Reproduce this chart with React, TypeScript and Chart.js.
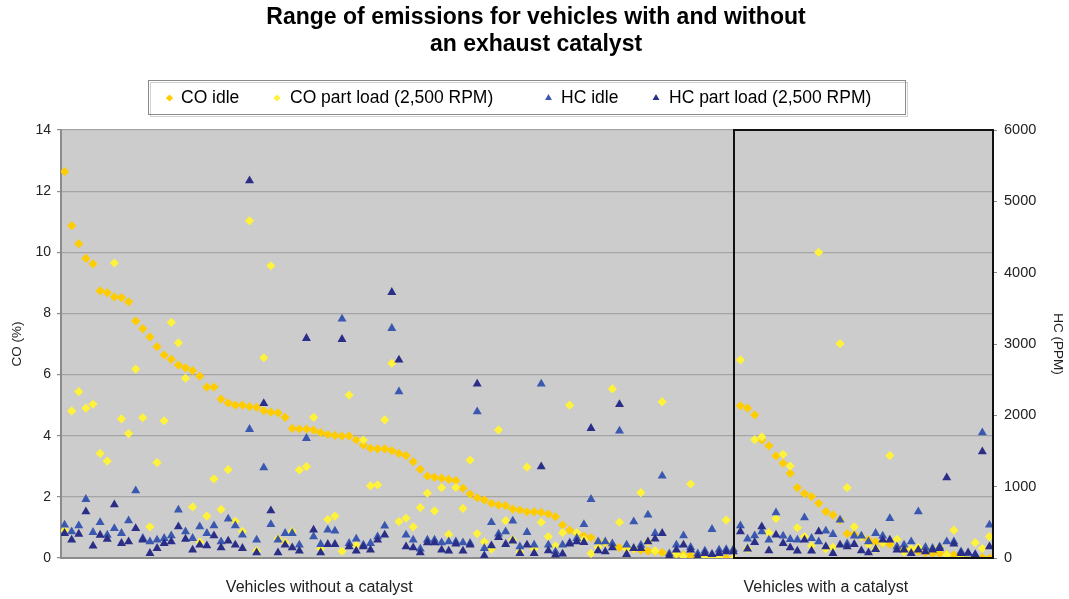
import React, { useEffect, useRef } from 'react';
import { Chart, registerables } from 'chart.js';

Chart.register(...registerables);

const FONT = '"Liberation Sans", Arial, Helvetica, sans-serif';

const titleLines = ['Range of emissions for vehicles with and without', 'an exhaust catalyst'];
const seriesNames = ['CO idle', 'CO part load (2,500 RPM)', 'HC idle', 'HC part load (2,500 RPM)'];
const groupLabels = ['Vehicles without a catalyst', 'Vehicles with a catalyst'];
const coTitle = 'CO (%)';
const hcTitle = 'HC (PPM)';
const vehiclesWithoutCatalyst = 95;

// CO idle (%), vehicles sorted within each group
const coIdle = [
  12.64, 10.87, 10.28, 9.8, 9.62, 8.74, 8.68, 8.54, 8.52, 8.38, 7.75, 7.5, 7.23, 6.91, 6.64, 6.5, 6.31, 6.22, 6.13,
  5.95, 5.59, 5.59, 5.2, 5.07, 5.0, 5.0, 4.95,
  4.93, 4.82, 4.77, 4.75, 4.6, 4.24, 4.22, 4.22, 4.18, 4.1, 4.04, 4.01, 3.99, 3.99, 3.86, 3.7, 3.59, 3.57, 3.57, 3.51,
  3.42, 3.35, 3.15, 2.9, 2.68, 2.64, 2.61, 2.57, 2.53, 2.28, 2.09, 1.97, 1.9,
  1.79, 1.73, 1.71, 1.6, 1.57, 1.51, 1.51, 1.49, 1.44, 1.35, 1.08, 0.91, 0.8, 0.72, 0.67, 0.53, 0.5, 0.42, 0.34, 0.32,
  0.29, 0.26, 0.23, 0.21, 0.18, 0.13, 0.12, 0.1, 0.08, 0.05, 0.05, 0.02, 0.01, 0.0, 0.0,
  4.98, 4.9, 4.68, 3.86, 3.67, 3.34, 3.1, 2.77, 2.3, 2.11, 2.01, 1.79, 1.52, 1.41, 1.24, 0.8, 0.77, 0.7, 0.59, 0.53,
  0.48, 0.45, 0.35, 0.28, 0.26, 0.21, 0.17, 0.15, 0.15, 0.12, 0.1, 0.04, 0.02, 0.01, 0.01, 0.0,
];

// CO part load (%)
const coPart = [
  0.9, 4.81, 5.44, 4.9, 5.03, 3.42, 3.17, 9.65, 4.55, 4.07, 6.18, 4.59, 1.02, 3.12, 4.49, 7.71, 7.04, 5.88, 1.67, 0.52,
  1.37, 2.59, 1.59, 2.89, 1.2, 0.87, 11.03,
  0.23, 6.55, 9.56, 0.63, 0.5, 0.86, 2.88, 2.99, 4.6, 0.3, 1.26, 1.37, 0.22, 5.33, 0.42, 3.86, 2.36, 2.39, 4.52, 6.37,
  1.19, 1.3, 1.02, 1.65, 2.12, 1.54, 2.3, 0.77, 2.31, 1.62, 3.2, 0.8,
  0.53, 0.29, 4.19, 1.22, 0.59, 0.2, 2.97, 0.3, 1.17, 0.7, 0.4, 0.83, 5.0, 0.83, 0.6, 0.15, 0.35, 0.53, 5.53, 1.17,
  0.3, 0.3, 2.14, 0.53, 0.23, 5.11, 0.1, 0.15, 0.05, 2.42, 0.1, 0.02, 0.02, 0.02, 1.24, 0.0,
  6.48, 0.3, 3.87, 3.96, 0.83, 1.29, 3.39, 3.01, 0.99, 0.7, 0.4, 10.0, 0.3, 0.35, 7.01, 2.3, 1.02, 0.7, 0.45, 0.3,
  0.5, 3.35, 0.61, 0.2, 0.3, 0.35, 0.3, 0.3, 0.35, 0.1, 0.91, 0.05, 0.1, 0.5, 0.31, 0.7,
];

// HC idle (ppm)
const hcIdle = [
  463, 369, 453, 823, 360, 500, 322, 416, 346, 523, 944, 276, 229, 252, 276, 313, 673, 369, 276, 439, 346, 453, 229,
  547, 453, 323, 1804,
  253, 1267, 472, 253, 346, 346, 182, 1678, 300, 192, 393, 379, 3351, 206, 267, 182, 206, 299, 449, 3220, 2332, 323,
  253, 126, 253, 253, 215, 229, 229, 215, 206, 2052,
  136, 500, 337, 369, 519, 159, 360, 182, 2440, 182, 89, 182, 215, 276, 472, 823, 229, 229, 200, 1781, 182, 510, 180,
  603, 346, 1150, 60, 182, 313, 150, 60, 100, 402, 112, 120, 120,
  454, 267, 313, 369, 253, 636, 309, 262, 253, 566, 276, 229, 379, 332, 533, 200, 309, 309, 229, 346, 309, 556, 159,
  182, 229, 650, 150, 136, 159, 229, 229, 90, 60, 50, 1757, 463,
];

// HC part load (ppm)
const hcPart = [
  346, 252, 336, 649, 168, 322, 266, 748, 206, 229, 416, 252, 66, 136, 206, 229, 439, 266, 112, 182, 173, 313, 145,
  238, 182, 136, 5290,
  75, 2168, 664, 75, 182, 145, 98, 3080, 393, 75, 192, 192, 3066, 159, 98, 159, 112, 253, 323, 3725, 2776, 159, 145,
  75, 215, 215, 112, 98, 196, 98, 182, 2440,
  33, 173, 290, 192, 239, 66, 182, 66, 1281, 103, 42, 56, 197, 229, 220, 1818, 103, 89, 145, 2154, 52, 136, 136, 229,
  267, 346, 28, 112, 182, 112, 19, 66, 52, 66, 89, 89,
  369, 127, 220, 440, 103, 323, 206, 145, 98, 253, 98, 369, 159, 66, 182, 159, 192, 103, 75, 122, 253, 253, 112, 112,
  66, 112, 89, 112, 136, 1126, 196, 66, 75, 42, 1491, 159,
];

const coTicks = [0, 2, 4, 6, 8, 10, 12, 14];
const hcTicks = [0, 1000, 2000, 3000, 4000, 5000, 6000];

const COLORS = ['#FFCC00', '#FFF23A', '#3B58B0', '#2A2E86'];
const STYLES = ['rectRot', 'rectRot', 'triangle', 'triangle'];

function drawMarker(ctx: CanvasRenderingContext2D, style: string, x: number, y: number, r: number) {
  ctx.beginPath();
  if (style === 'triangle') {
    ctx.moveTo(x, y - r);
    ctx.lineTo(x + r * 0.866, y + r * 0.5);
    ctx.lineTo(x - r * 0.866, y + r * 0.5);
  } else {
    ctx.moveTo(x, y - r);
    ctx.lineTo(x + r, y);
    ctx.lineTo(x, y + r);
    ctx.lineTo(x - r, y);
  }
  ctx.closePath();
  ctx.fill();
}

const backgroundPlugin = {
  id: 'plotBackground',
  beforeDraw(chart: any) {
    const { ctx, chartArea } = chart;
    ctx.save();
    ctx.fillStyle = '#ffffff';
    ctx.fillRect(0, 0, chart.width, chart.height);
    ctx.fillStyle = '#CCCCCC';
    ctx.fillRect(chartArea.left, chartArea.top, chartArea.right - chartArea.left, chartArea.bottom - chartArea.top);
    ctx.restore();
  },
};

const catalystBoxPlugin = {
  id: 'catalystBox',
  afterDatasetsDraw(chart: any) {
    const { ctx, chartArea, scales } = chart;
    const x0 = Math.round(scales.x.getPixelForValue(vehiclesWithoutCatalyst - 0.9));
    ctx.save();
    ctx.strokeStyle = '#111111';
    ctx.lineWidth = 2;
    ctx.strokeRect(x0, chartArea.top, chartArea.right - x0, chartArea.bottom - chartArea.top);
    ctx.restore();
  },
};

const headerPlugin = {
  id: 'header',
  afterDraw(chart: any) {
    const { ctx } = chart;
    ctx.save();
    ctx.fillStyle = '#000000';
    ctx.textAlign = 'center';
    ctx.textBaseline = 'middle';
    ctx.font = `bold 23px ${FONT}`;
    ctx.fillText(titleLines[0], 536, 18);
    ctx.fillText(titleLines[1], 536, 45);

    // legend frame
    ctx.fillStyle = '#ffffff';
    ctx.fillRect(149, 81, 757, 34);
    ctx.strokeStyle = '#d0d0d0';
    ctx.lineWidth = 1;
    ctx.strokeRect(150.5, 82.5, 757, 34);
    ctx.strokeStyle = '#8a8a8a';
    ctx.strokeRect(148.5, 80.5, 757, 34);

    const markerX = [169.5, 277, 548.5, 656];
    const textX = [181, 290, 561, 669];
    ctx.font = `17.5px ${FONT}`;
    ctx.textAlign = 'left';
    for (let i = 0; i < seriesNames.length; i++) {
      ctx.fillStyle = COLORS[i];
      drawMarker(ctx, STYLES[i], markerX[i], 98, STYLES[i] === 'triangle' ? 4 : 3.6);
      ctx.fillStyle = '#000000';
      ctx.fillText(seriesNames[i], textX[i], 98.5);
    }
    ctx.restore();
  },
};

export default function App() {
  const ref = useRef<HTMLCanvasElement>(null);

  useEffect(() => {
    const toPts = (arr: number[]) => arr.map((y, i) => ({ x: i, y }));
    const series = [coIdle, coPart, hcIdle, hcPart];
    const datasets = series.map((arr, i) => ({
      label: seriesNames[i],
      data: toPts(arr),
      yAxisID: i < 2 ? 'y' : 'y2',
      pointStyle: STYLES[i] as any,
      pointRadius: i < 2 ? 4.6 : 5.2,
      pointHoverRadius: i < 2 ? 4.6 : 5.2,
      backgroundColor: COLORS[i],
      borderColor: COLORS[i],
      borderWidth: 0,
      showLine: false,
      order: 4 - i,
    }));

    const chart = new Chart(ref.current as HTMLCanvasElement, {
      type: 'scatter',
      data: { datasets },
      options: {
        animation: false,
        responsive: false,
        maintainAspectRatio: false,
        layout: { padding: { top: 130, left: 0, right: 0, bottom: 0 } },
        plugins: {
          legend: { display: false },
          title: { display: false },
          tooltip: { enabled: false },
        },
        scales: {
          x: {
            type: 'linear',
            min: -0.5,
            max: coIdle.length - 0.5,
            afterFit: (s: any) => {
              s.height = 41;
            },
            afterBuildTicks: (s: any) => {
              s.ticks = [35.8, 107.0].map((v) => ({ value: v }));
            },
            ticks: {
              autoSkip: false,
              maxRotation: 0,
              callback: (_v: any, i: number) => groupLabels[i],
              font: { family: FONT, size: 16 },
              color: '#222222',
              padding: 20,
            },
            grid: { display: true, drawOnChartArea: false, drawTicks: false },
            border: { color: '#8c8c8c', width: 2 },
          },
          y: {
            position: 'left',
            min: 0,
            max: 14,
            afterFit: (s: any) => {
              s.width = 61;
            },
            afterBuildTicks: (s: any) => {
              s.ticks = coTicks.map((v) => ({ value: v }));
            },
            ticks: {
              font: { family: FONT, size: 14 },
              color: '#222222',
              padding: 6,
              callback: (v: any) => String(v),
            },
            title: {
              display: true,
              text: coTitle,
              font: { family: FONT, size: 13.5 },
              color: '#222222',
              padding: { top: 9, bottom: 0 },
            },
            grid: { color: '#A4A4A4', lineWidth: 1.2, tickLength: 4, tickColor: '#8c8c8c' },
            border: { color: '#8c8c8c', width: 2 },
          },
          y2: {
            position: 'right',
            min: 0,
            max: 6000,
            afterFit: (s: any) => {
              s.width = 76;
            },
            afterBuildTicks: (s: any) => {
              s.ticks = hcTicks.map((v) => ({ value: v }));
            },
            ticks: {
              font: { family: FONT, size: 14.5 },
              color: '#222222',
              padding: 7,
              callback: (v: any) => String(v),
            },
            title: {
              display: true,
              text: hcTitle,
              font: { family: FONT, size: 13.5 },
              color: '#222222',
              padding: { top: 3, bottom: 0 },
            },
            grid: { drawOnChartArea: false, tickLength: 4, color: '#8c8c8c' },
            border: { display: false },
          },
        },
      } as any,
      plugins: [backgroundPlugin, catalystBoxPlugin, headerPlugin],
    });
    return () => chart.destroy();
  }, []);

  return (
    <div style={{ position: 'fixed', left: 0, top: 0, width: 1069, height: 599, background: '#ffffff' }}>
      <canvas ref={ref} width={1069} height={599} style={{ display: 'block' }} />
    </div>
  );
}
